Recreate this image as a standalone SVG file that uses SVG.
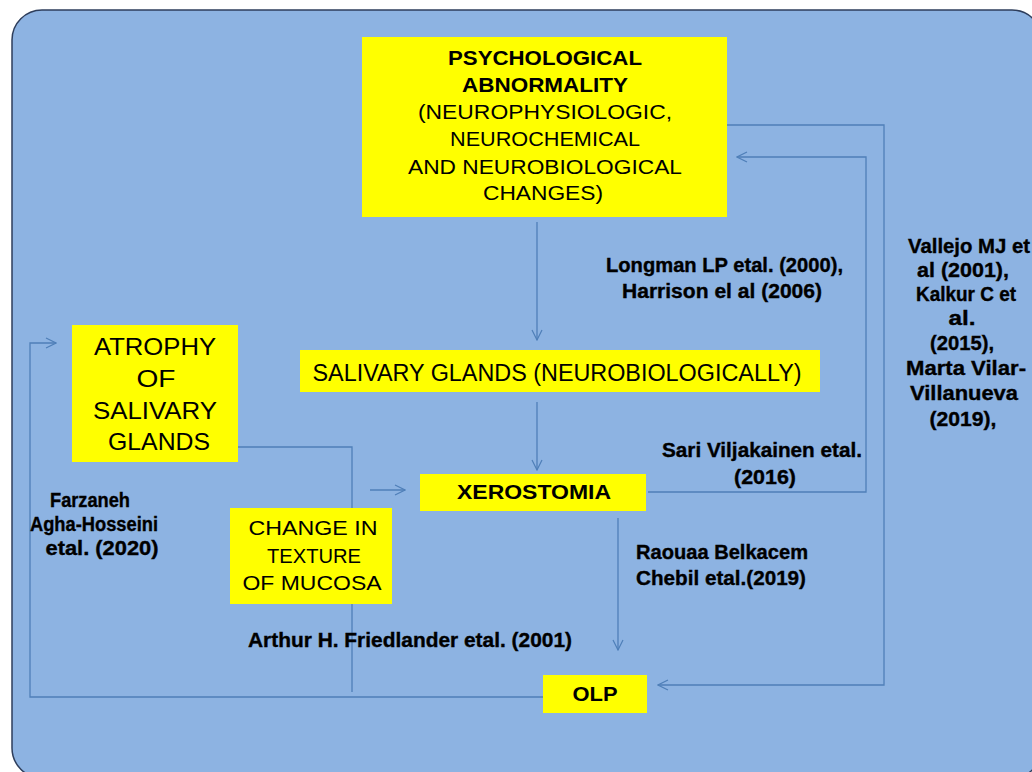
<svg xmlns="http://www.w3.org/2000/svg" width="1032" height="772" viewBox="0 0 1032 772">
<defs>
<style>
.box{fill:#FFFF00;}
.t{font-family:"Liberation Sans",Arial,sans-serif;fill:#000;text-anchor:middle;}
.b{font-weight:bold;}
.c{font-family:"Liberation Sans",Arial,sans-serif;font-weight:bold;fill:#000;font-size:19.5px;stroke:#000;stroke-width:0.35;}
.ln{fill:none;stroke:#4F7FB8;stroke-width:1.3;}
</style>
<marker id="arr" viewBox="0 0 12 12" refX="11" refY="6" markerWidth="12" markerHeight="12" markerUnits="userSpaceOnUse" orient="auto">
<path d="M1,1 L11,6 L1,11" fill="none" stroke="#4F7FB8" stroke-width="1.2"/>
</marker>
</defs>
<rect x="0" y="0" width="1032" height="772" fill="#FFFFFF"/>
<rect x="12" y="10" width="1030" height="768" rx="30" ry="30" fill="#8DB3E2" stroke="#2E3E5C" stroke-width="1.5"/>

<g id="connectors">
<line class="ln" x1="537" y1="222" x2="537" y2="340" marker-end="url(#arr)"/>
<line class="ln" x1="537" y1="402" x2="537" y2="470" marker-end="url(#arr)"/>
<line class="ln" x1="618" y1="518" x2="618" y2="650" marker-end="url(#arr)"/>
<path class="ln" d="M727,125 H884 V685 H658" marker-end="url(#arr)"/>
<path class="ln" d="M648,492 H866 V157 H737" marker-end="url(#arr)"/>
<path class="ln" d="M543,697 H30 V343 H56" marker-end="url(#arr)"/>
<path class="ln" d="M238,447 H352 V692"/>
<line class="ln" x1="370" y1="490" x2="405" y2="490" marker-end="url(#arr)"/>
</g>

<g id="psych">
<rect class="box" x="362" y="37" width="365" height="180"/>
<text class="t b" font-size="20.5" x="545" y="65" textLength="194" lengthAdjust="spacingAndGlyphs">PSYCHOLOGICAL</text>
<text class="t b" font-size="20.5" x="545" y="92" textLength="166" lengthAdjust="spacingAndGlyphs">ABNORMALITY</text>
<text class="t" font-size="20.5" x="545" y="119" textLength="254" lengthAdjust="spacingAndGlyphs">(NEUROPHYSIOLOGIC,</text>
<text class="t" font-size="20.5" x="545" y="146" textLength="190" lengthAdjust="spacingAndGlyphs">NEUROCHEMICAL</text>
<text class="t" font-size="20.5" x="545" y="174" textLength="274" lengthAdjust="spacingAndGlyphs">AND NEUROBIOLOGICAL</text>
<text class="t" font-size="20.5" x="543" y="200" textLength="120" lengthAdjust="spacingAndGlyphs">CHANGES)</text>
</g>

<g id="salivary">
<rect class="box" x="300" y="350" width="520" height="42"/>
<text class="t" font-size="23" x="557" y="381" textLength="489" lengthAdjust="spacingAndGlyphs">SALIVARY GLANDS (NEUROBIOLOGICALLY)</text>
</g>

<g id="xerostomia">
<rect class="box" x="420" y="474" width="226" height="37"/>
<text class="t b" font-size="21" x="534" y="499" textLength="154" lengthAdjust="spacingAndGlyphs">XEROSTOMIA</text>
</g>

<g id="atrophy">
<rect class="box" x="72" y="325" width="166" height="137"/>
<text class="t" font-size="24" x="155" y="355" textLength="122" lengthAdjust="spacingAndGlyphs">ATROPHY</text>
<text class="t" font-size="24" x="156" y="387" textLength="39" lengthAdjust="spacingAndGlyphs">OF</text>
<text class="t" font-size="24" x="155" y="419" textLength="124" lengthAdjust="spacingAndGlyphs">SALIVARY</text>
<text class="t" font-size="24" x="159" y="450" textLength="102" lengthAdjust="spacingAndGlyphs">GLANDS</text>
</g>

<g id="change">
<rect class="box" x="230" y="508" width="162" height="96"/>
<text class="t" font-size="21" x="313" y="535" textLength="129" lengthAdjust="spacingAndGlyphs">CHANGE IN</text>
<text class="t" font-size="21" x="314" y="563" textLength="94" lengthAdjust="spacingAndGlyphs">TEXTURE</text>
<text class="t" font-size="21" x="312" y="590" textLength="139" lengthAdjust="spacingAndGlyphs">OF MUCOSA</text>
</g>

<g id="olp">
<rect class="box" x="543" y="675" width="104" height="38"/>
<text class="t b" font-size="20" x="595" y="701" textLength="45" lengthAdjust="spacingAndGlyphs">OLP</text>
</g>

<g id="citations">
<text class="c" x="606" y="272" textLength="237" lengthAdjust="spacingAndGlyphs">Longman LP etal. (2000),</text>
<text class="c" x="622" y="298" textLength="200" lengthAdjust="spacingAndGlyphs">Harrison el al (2006)</text>

<g text-anchor="middle">
<text class="c" x="969" y="253" textLength="122" lengthAdjust="spacingAndGlyphs">Vallejo MJ et</text>
<text class="c" x="963" y="277" textLength="92" lengthAdjust="spacingAndGlyphs">al (2001),</text>
<text class="c" x="966" y="301" textLength="100" lengthAdjust="spacingAndGlyphs">Kalkur C et</text>
<text class="c" x="962" y="325" textLength="27" lengthAdjust="spacingAndGlyphs">al.</text>
<text class="c" x="962" y="350" textLength="64" lengthAdjust="spacingAndGlyphs">(2015),</text>
<text class="c" x="966" y="375" textLength="120" lengthAdjust="spacingAndGlyphs">Marta Vilar-</text>
<text class="c" x="964" y="400" textLength="108" lengthAdjust="spacingAndGlyphs">Villanueva</text>
<text class="c" x="963" y="426" textLength="67" lengthAdjust="spacingAndGlyphs">(2019),</text>

<text class="c" x="762" y="457" textLength="200" lengthAdjust="spacingAndGlyphs">Sari Viljakainen etal.</text>
<text class="c" x="765" y="484" textLength="62" lengthAdjust="spacingAndGlyphs">(2016)</text>

<text class="c" x="90" y="507" textLength="80" lengthAdjust="spacingAndGlyphs">Farzaneh</text>
<text class="c" x="94" y="531" textLength="128" lengthAdjust="spacingAndGlyphs">Agha-Hosseini</text>
<text class="c" x="102" y="555" textLength="113" lengthAdjust="spacingAndGlyphs">etal. (2020)</text>
</g>

<text class="c" x="636" y="559" textLength="172" lengthAdjust="spacingAndGlyphs">Raouaa Belkacem</text>
<text class="c" x="636" y="585" textLength="170" lengthAdjust="spacingAndGlyphs">Chebil etal.(2019)</text>

<text class="c" x="248" y="647" textLength="324" lengthAdjust="spacingAndGlyphs">Arthur H. Friedlander etal. (2001)</text>
</g>
</svg>
